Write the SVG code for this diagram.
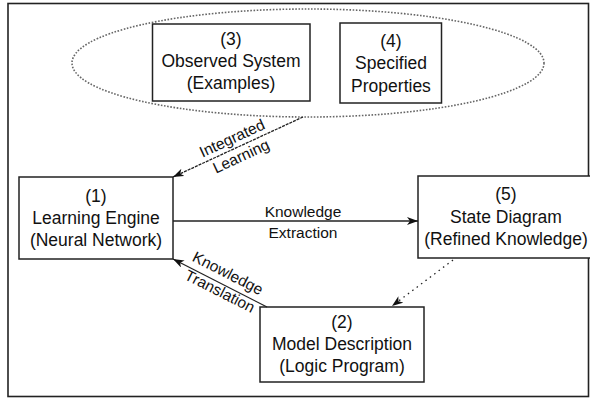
<svg xmlns="http://www.w3.org/2000/svg" width="590" height="398" viewBox="0 0 590 398">
<defs>
<style>
.box{fill:#fff;stroke:#222;stroke-width:1.5}
.t{font-family:"Liberation Sans",Arial,sans-serif;font-size:17.5px;fill:#111;text-anchor:middle}
.l{font-family:"Liberation Sans",Arial,sans-serif;font-size:15.5px;fill:#111;text-anchor:middle}
.ln{fill:none;stroke:#222;stroke-width:1.3}
</style>
<marker id="ah" markerUnits="userSpaceOnUse" markerWidth="12" markerHeight="9" refX="11" refY="4" orient="auto">
<path d="M0,0 L11,4 L0,8 L3,4 z" fill="#111"/>
</marker>
</defs>
<rect x="0" y="0" width="590" height="398" fill="#fff"/>
<rect x="8" y="3.5" width="580.5" height="393" fill="none" stroke="#222" stroke-width="1.6"/>
<ellipse id="group34" cx="308" cy="63" rx="236" ry="54" fill="none" stroke="#666" stroke-width="1.6" stroke-dasharray="1.6 1.6"/>
<g id="n3">
<rect class="box" x="152.5" y="24" width="157.5" height="77"/>
<text class="t" x="231" y="45">(3)</text>
<text class="t" x="231" y="67">Observed System</text>
<text class="t" x="231" y="89">(Examples)</text>
</g>
<g id="n4">
<rect class="box" x="340" y="23" width="101.5" height="80"/>
<text class="t" x="391" y="47">(4)</text>
<text class="t" x="391" y="69">Specified</text>
<text class="t" x="391" y="92">Properties</text>
</g>
<g id="n1">
<rect class="box" x="19" y="177" width="154" height="82"/>
<text class="t" x="96" y="202">(1)</text>
<text class="t" x="96" y="224">Learning Engine</text>
<text class="t" x="96" y="246">(Neural Network)</text>
</g>
<g id="n5">
<rect class="box" x="418" y="176" width="176" height="82"/>
<text class="t" x="506" y="199.5">(5)</text>
<text class="t" x="506" y="223">State Diagram</text>
<text class="t" x="506" y="245">(Refined Knowledge)</text>
</g>
<g id="n2">
<rect class="box" x="260" y="307" width="164" height="75"/>
<text class="t" x="342" y="328">(2)</text>
<text class="t" x="342" y="350">Model Description</text>
<text class="t" x="342" y="372">(Logic Program)</text>
</g>
<g id="connectors">
<line class="ln" x1="303" y1="117" x2="173" y2="177" stroke-dasharray="3 1" marker-end="url(#ah)"/>
<line class="ln" x1="173" y1="221" x2="418" y2="221" marker-end="url(#ah)"/>
<line class="ln" x1="267" y1="307" x2="173" y2="259" marker-end="url(#ah)"/>
<line class="ln" x1="453" y1="260" x2="392" y2="306" stroke="#666" stroke-dasharray="1.5 4" marker-end="url(#ah)"/>
<g transform="translate(232,138) rotate(-24.8)"><text class="l" x="0" y="5.5">Integrated</text></g>
<g transform="translate(241,156) rotate(-24.8)"><text class="l" x="0" y="5.5">Learning</text></g>
<text class="l" x="303" y="216.5">Knowledge</text>
<text class="l" x="303" y="237.5">Extraction</text>
<g transform="translate(228,273) rotate(27)"><text class="l" x="0" y="5.5">Knowledge</text></g>
<g transform="translate(220,291) rotate(27)"><text class="l" x="0" y="5.5">Translation</text></g>
</g>
</svg>
